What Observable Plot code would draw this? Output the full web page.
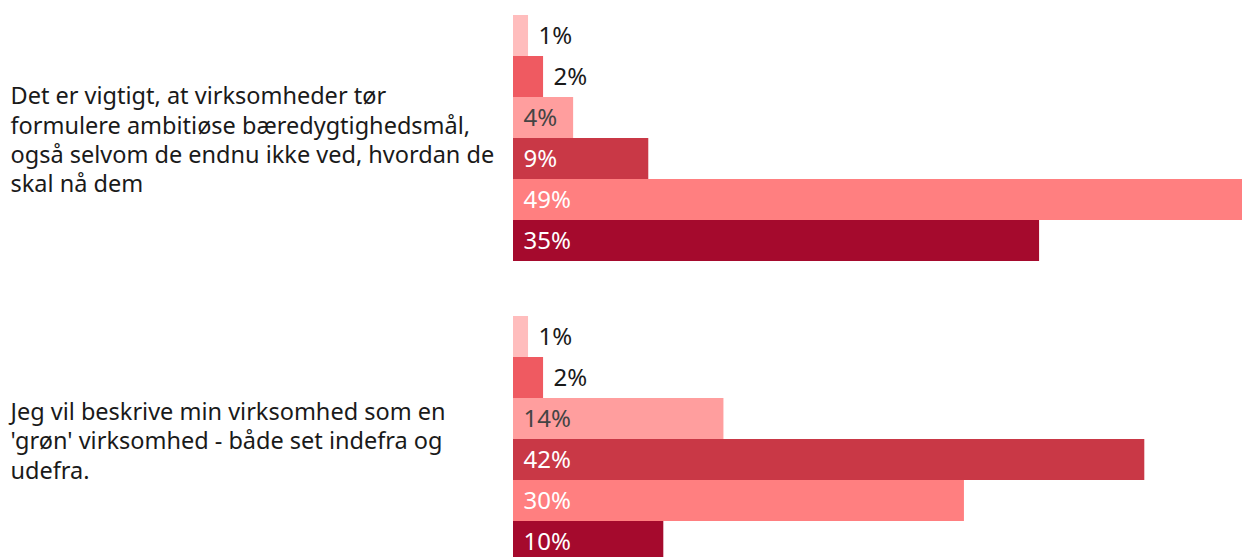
<!DOCTYPE html>
<html>
<head>
<meta charset="utf-8">
<script src="https://cdn.jsdelivr.net/npm/d3@7"></script>
<script src="https://cdn.jsdelivr.net/npm/@observablehq/plot@0.6"></script>
<style>
  html, body { margin: 0; padding: 0; background: #fff; overflow: hidden; }
  #chart svg { overflow: hidden; }
</style>
</head>
<body>
<div id="chart"></div>
<script>
const questions = [
  "Det er vigtigt, at virksomheder tør\nformulere ambitiøse bæredygtighedsmål,\nogså selvom de endnu ikke ved, hvordan de\nskal nå dem",
  "Jeg vil beskrive min virksomhed som en\n'grøn' virksomhed - både set indefra og\nudefra."
];
const answers = ["Ved ikke", "Helt uenig", "Delvist uenig", "Hverken enig eller uenig", "Delvist enig", "Helt enig"];
const valuesQ1 = [1, 2, 4, 9, 49, 35];
const valuesQ2 = [1, 2, 14, 42, 30, 10];
const colors = ["#FFBDBD", "#EF5A61", "#FF9E9E", "#C93846", "#FF7F80", "#A50A2D"];
const labelColors = ["#1a1a1a", "#1a1a1a", "#444444", "#ffffff", "#ffffff", "#ffffff"];

const data = [];
[valuesQ1, valuesQ2].forEach((vals, qi) => {
  vals.forEach((v, ai) => data.push({question: questions[qi], answer: answers[ai], value: v, idx: ai}));
});

const font = "'Noto Sans', 'Open Sans', sans-serif";

const chart = Plot.plot({
  width: 1242,
  height: 563,
  marginLeft: 513,
  marginRight: 0,
  marginTop: 13,
  marginBottom: 0,
  style: {fontFamily: font, fontSize: "23px", background: "#fff"},
  x: {domain: [0, 48.5], axis: null},
  y: {domain: answers, padding: 0, axis: null},
  fy: {domain: questions, paddingInner: 0.173, paddingOuter: 0, axis: null},
  color: {domain: answers, range: colors},
  marks: [
    Plot.barX(data, {fy: "question", y: "answer", x: "value", fill: "answer"}),
    Plot.text(data, {
      fy: "question", y: "answer",
      x: d => d.value < 3 ? d.value : 0,
      text: d => d.value + "%",
      textAnchor: "start", dx: 10,
      fill: d => d.value < 3 ? "#1a1a1a" : labelColors[d.idx],
      fontSize: 24
    }),
    Plot.text(questions, {
      fy: d => d, text: d => d,
      frameAnchor: "left", textAnchor: "start", dx: -503, dy: 1,
      lineHeight: 1.25, fontSize: 23.5, fill: "#1a1a1a"
    })
  ]
});
document.getElementById("chart").append(chart);
</script>
</body>
</html>
